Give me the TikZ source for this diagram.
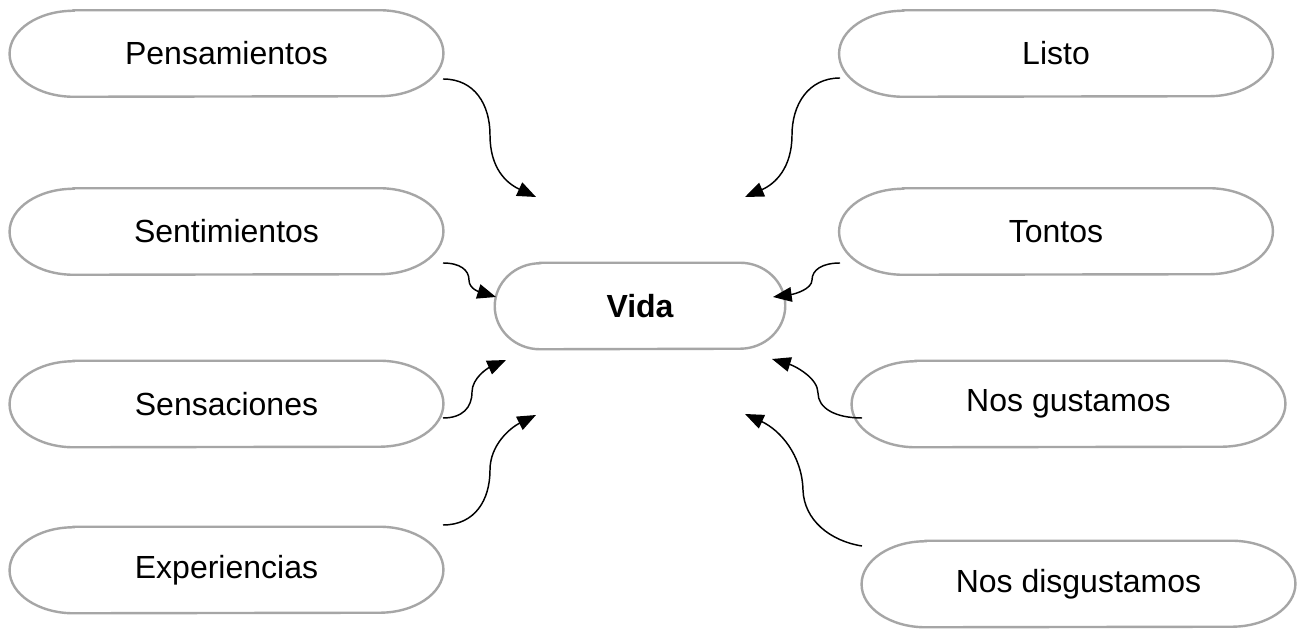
\documentclass[tikz,border=0pt]{standalone}
\usepackage{fontspec}
\setmainfont{Liberation Sans}
\usetikzlibrary{arrows.meta}
\definecolor{boxgray}{HTML}{A6A6A6}
\newcommand\ovalbox[2]{%
  \draw[boxline] ([xshift=#2]#1.north west) -- ([xshift=-#2]#1.north east)
    arc[start angle=90,end angle=-90,x radius=#2,y radius=32.25pt]
    -- ([xshift=#2]#1.south west)
    arc[start angle=270,end angle=90,x radius=#2,y radius=32.25pt] -- cycle;}
\begin{document}
\begin{tikzpicture}[x=0.75pt,y=-0.75pt,
  boxline/.style={draw=boxgray,line width=1.8pt},
  term/.style={inner sep=0pt,minimum height=64.5pt,minimum width=325pt,
    font=\fontsize{24}{28}\selectfont},
  centre/.style={term,minimum width=217.5pt,font=\fontsize{24}{28}\selectfont\bfseries},
  conn/.style={draw=black,line width=1.1pt,
    -{Triangle[length=14pt,width=11pt]}}]
\fill[white] (0,0) rectangle (1304,630);
\useasboundingbox (0,0) rectangle (1304,630);
% nodes
\node[term] (pens) at (226.5,53.5) {Pensamientos};
\node[term] (sent) at (226.5,231.5) {Sentimientos};
\node[term] (sens) at (226.5,404) {Sensaciones};
\node[term] (expe) at (226.5,570) {Experiencias};
\node[term] (listo) at (1056,53.5) {Listo};
\node[term] (tont) at (1056,231.5) {Tontos};
\node[term] (gust) at (1068.5,404) {Nos gustamos};
\node[term] (disg) at (1078.5,584) {Nos disgustamos};
\node[centre] (vida) at (640,306) {Vida};
\foreach \n in {pens,sent,sens,expe,listo,tont,gust,disg}{\ovalbox{\n}{48pt}}
\ovalbox{vida}{34pt}
% connector ends
\coordinate (s1) at (443,79);  \coordinate (e1) at (536,197);
\coordinate (s2) at (840,78);  \coordinate (e2) at (745,197);
\coordinate (s3) at (443,263); \coordinate (e3) at (496,297);
\coordinate (s4) at (443,418); \coordinate (e4) at (506,360);
\coordinate (s5) at (443,525); \coordinate (e5) at (536,415);
\coordinate (s6) at (840,263); \coordinate (e6) at (773,297);
\coordinate (s7) at (862,418); \coordinate (e7) at (772,359);
\coordinate (s8) at (862,546); \coordinate (e8) at (745,414);
% connectors
\draw[conn] (s1) .. controls (475,79) and (490,105) .. (490,135)
                 .. controls (490,168) and (506,183) .. (e1);
\draw[conn] (s2) .. controls (808,78) and (792,105) .. (792,135)
                 .. controls (792,168) and (775,184) .. (e2);
\draw[conn] (s3) .. controls (460,263) and (469,270) .. (469,280)
                 .. controls (469,289) and (480,292) .. (e3);
\draw[conn] (s4) .. controls (462,418) and (472,408) .. (472,392)
                 .. controls (472,378) and (488,368) .. (e4);
\draw[conn] (s5) .. controls (475,525) and (490,500) .. (490,470)
                 .. controls (490,445) and (510,428) .. (e5);
\draw[conn] (s6) .. controls (822,263) and (812,270) .. (812,280)
                 .. controls (812,289) and (795,294) .. (e6);
\draw[conn] (s7) .. controls (835,418) and (818,408) .. (818,393)
                 .. controls (818,378) and (795,366) .. (e7);
\draw[conn] (s8) .. controls (830,541) and (804,520) .. (803,490)
                 .. controls (802,455) and (780,430) .. (e8);
\end{tikzpicture}
\end{document}
